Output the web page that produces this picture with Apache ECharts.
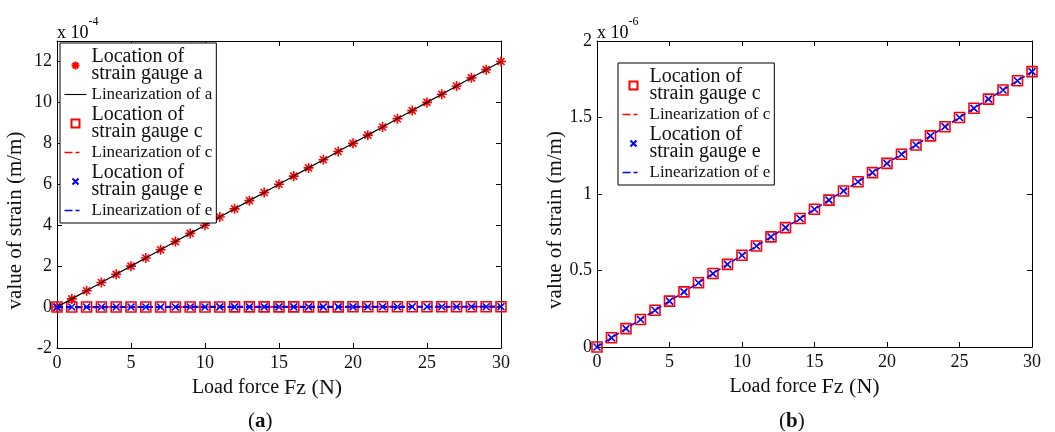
<!DOCTYPE html>
<html>
<head>
<meta charset="utf-8">
<script src="https://cdn.jsdelivr.net/npm/echarts@6/dist/echarts.min.js"></script>
<style>
  html, body { margin: 0; padding: 0; background: #fff; }
  #chart { width: 1055px; height: 432px; }
</style>
</head>
<body>
<div id="chart"></div>
<script>
// load force Fz (N)
const forceN = [0, 1, 2, 3, 4, 5, 6, 7, 8, 9, 10, 11, 12, 13, 14, 15, 16, 17, 18, 19, 20,
  21, 22, 23, 24, 25, 26, 27, 28, 29, 30];
// strain in micro-strain (x 1e-6 m/m)
const strainA = [0, 40, 80, 120, 160, 200, 240, 280, 320, 360, 400, 440, 480, 520, 560, 600,
  640, 680, 720, 760, 800, 840, 880, 920, 960, 1000, 1040, 1080, 1120, 1160, 1200];
const strainC = [0, 0.06, 0.12, 0.18, 0.24, 0.3, 0.36, 0.42, 0.48, 0.54, 0.6, 0.66, 0.72, 0.78,
  0.84, 0.9, 0.96, 1.02, 1.08, 1.14, 1.2, 1.26, 1.32, 1.38, 1.44, 1.5, 1.56, 1.62, 1.68, 1.74, 1.8];
const strainE = [0, 0.06, 0.12, 0.18, 0.24, 0.3, 0.36, 0.42, 0.48, 0.54, 0.6, 0.66, 0.72, 0.78,
  0.84, 0.9, 0.96, 1.02, 1.08, 1.14, 1.2, 1.26, 1.32, 1.38, 1.44, 1.5, 1.56, 1.62, 1.68, 1.74, 1.8];

const FONT = "Liberation Serif";
const pair = (ys) => forceN.map((x, i) => [x, ys[i]]);

const STAR = "path://M5,0L5,10M0,5L10,5M1.5,1.5L8.5,8.5M1.5,8.5L8.5,1.5";
const CROSS = "path://M0,0L10,10M0,10L10,0";

// legend icons drawn on a 22x10 box (the two moves pin the box size)
const BOX = "path://M0,0M22,10";
const ICON = {
  star: BOX + "M11,1L11,9M7,5L15,5M8.2,2.2L13.8,7.8M8.2,7.8L13.8,2.2",
  square: BOX + "M7,1h8v8h-8z",
  cross: BOX + "M8,2L14,8M8,8L14,2",
  solid: BOX + "M0,4.4h24v1.2h-24z",
  dashed: BOX + "M0,4.2h8v1.6h-8zM11,4.2h4v1.6h-4z",
};

const names = {
  locA: "Location of strain gauge a",
  linA: "Linearization of a",
  locC: "Location of strain gauge c",
  linC: "Linearization of c",
  locE: "Location of strain gauge e",
  linE: "Linearization of e",
};

function xAx(grid, pos, shift) {
  const main = pos === "bottom";
  return {
    type: "value", gridIndex: grid, position: pos,
    min: 0, max: 30, interval: 5,
    axisLine: { show: true, onZero: false, lineStyle: { color: "#000", width: 1 } },
    axisTick: { show: true, inside: true, length: 5, lineStyle: { color: "#000" } },
    axisLabel: { show: main, color: "#111", fontFamily: FONT, fontSize: 18, margin: 6 },
    splitLine: { show: false },
    name: main ? "{a|Load force }{b|Fz (N)}" : "",
    nameLocation: "middle", nameGap: 20,
    nameTextStyle: {
      padding: [0, shift || 0, 0, 0],
      rich: {
        a: { fontFamily: FONT, fontSize: 20, color: "#111" },
        b: { fontFamily: FONT, fontSize: 22, color: "#111" },
      },
    },
  };
}

function yAx(grid, pos, min, max, interval, fmt, gap) {
  const main = pos === "left";
  return {
    type: "value", gridIndex: grid, position: pos,
    min: min, max: max, interval: interval,
    axisLine: { show: true, onZero: false, lineStyle: { color: "#000", width: 1 } },
    axisTick: { show: true, inside: true, length: 5, lineStyle: { color: "#000" } },
    axisLabel: { show: main, color: "#111", fontFamily: FONT, fontSize: 18, margin: 5,
      formatter: fmt, showMaxLabel: max % interval === 0 },
    splitLine: { show: false },
    name: main ? "value of strain (m/m)" : "",
    nameLocation: "middle", nameGap: gap,
    // pushes the title down the axis a bit, like the original figure
    nameTextStyle: { fontFamily: FONT, fontSize: 21, color: "#111", padding: [0, 52, 0, 0] },
  };
}

function marker(name, sym, size, color, xi, data) {
  return {
    name: name, type: "scatter", xAxisIndex: xi, yAxisIndex: xi,
    symbol: sym, symbolSize: size, data: data,
    itemStyle: { color: "none", borderColor: color, borderWidth: 1.6, opacity: 1 },
    emphasis: { disabled: true },
  };
}
function fitLine(name, color, type, width, xi, data) {
  return {
    name: name, type: "line", xAxisIndex: xi, yAxisIndex: xi,
    symbol: "none", data: data,
    lineStyle: { color: color, type: type, width: width },
    itemStyle: { color: color, borderWidth: 0 },
    emphasis: { disabled: true },
  };
}

const legendText = {
  fontFamily: FONT, color: "#111",
  rich: {
    loc: { fontFamily: FONT, fontSize: 20, lineHeight: 17, color: "#111" },
    lin: { fontFamily: FONT, fontSize: 17, lineHeight: 18, color: "#111" },
  },
};
const legendFmt = (n) => n.startsWith("Location")
  ? "{loc|Location of}\n{loc|" + n.replace("Location of ", "") + "}"
  : "{lin|" + n + "}";

const iconFor = {};
iconFor[names.locA] = ICON.star;
iconFor[names.linA] = ICON.solid;
iconFor[names.locC] = ICON.square;
iconFor[names.linC] = ICON.dashed;
iconFor[names.locE] = ICON.cross;
iconFor[names.linE] = ICON.dashed;
const legendData = (list) => list.map((n) => ({ name: n, icon: iconFor[n] }));

function legendBox(left, top, list) {
  return {
    left: left, top: top, orient: "vertical", itemGap: 2, itemWidth: 22, itemHeight: 10,
    symbolKeepAspect: true,
    padding: [4, 4, 4, 2], borderColor: "#000", borderWidth: 1, backgroundColor: "#fff",
    data: legendData(list),
    textStyle: legendText, formatter: legendFmt, selectedMode: false,
  };
}

const expText = (left, exp) => ({
  type: "text", left: left, top: 16,
  style: { text: "{a|x 10}{b|" + exp + "}", rich: {
    a: { fontFamily: FONT, fontSize: 18, color: "#111", verticalAlign: "bottom", padding: [8, 0, 0, 0] },
    b: { fontFamily: FONT, fontSize: 12, color: "#111", verticalAlign: "top" } } },
});
const panelTag = (left, letter) => ({
  type: "text", left: left, top: 411,
  style: { text: "({b|" + letter + "})", fontFamily: FONT, fontSize: 21, fill: "#111",
    rich: { b: { fontFamily: FONT, fontSize: 21, fontWeight: "bold", color: "#111" } } },
});

const option = {
  animation: false,
  backgroundColor: "#fff",
  grid: [
    { left: 57, top: 41, width: 444, height: 307, outerBoundsMode: "none" },
    { left: 597, top: 41, width: 435, height: 306, outerBoundsMode: "none" },
  ],
  xAxis: [xAx(0, "bottom", 24), xAx(1, "bottom", 20), xAx(0, "top"), xAx(1, "top")],
  yAxis: [
    yAx(0, "left", -200, 1300, 200, (v) => String(v / 100), 31),
    yAx(1, "left", 0, 2, 0.5, (v) => String(v), 31),
    yAx(0, "right", -200, 1300, 200, (v) => "", 0),
    yAx(1, "right", 0, 2, 0.5, (v) => "", 0),
  ],
  legend: [
    legendBox(60, 43, [names.locA, names.linA, names.locC, names.linC, names.locE, names.linE]),
    legendBox(618, 63, [names.locC, names.linC, names.locE, names.linE]),
  ],
  graphic: [expText(57, "-4"), expText(597, "-6"), panelTag(248, "a"), panelTag(779, "b")],
  series: [
    marker(names.locA, STAR, 10, "#f00", 0, pair(strainA)),
    fitLine(names.linA, "#000", "solid", 1.2, 0, pair(strainA)),
    marker(names.locC, "rect", 10, "#f00", 0, pair(strainC)),
    fitLine(names.linC, "#f00", [6, 4], 1.6, 0, pair(strainC)),
    marker(names.locE, CROSS, 7, "#00f", 0, pair(strainE)),
    fitLine(names.linE, "#00f", [6, 3], 2.2, 0, pair(strainE)),

    marker(names.locC, "rect", 10, "#f00", 1, pair(strainC)),
    fitLine(names.linC, "#f00", [6, 4], 1.4, 1, pair(strainC)),
    marker(names.locE, CROSS, 7, "#00f", 1, pair(strainE)),
    fitLine(names.linE, "#00f", [6, 4], 1.2, 1, pair(strainE)),
  ],
};

const chart = echarts.init(document.getElementById("chart"), null, { renderer: "canvas" });
chart.setOption(option);
</script>
</body>
</html>
